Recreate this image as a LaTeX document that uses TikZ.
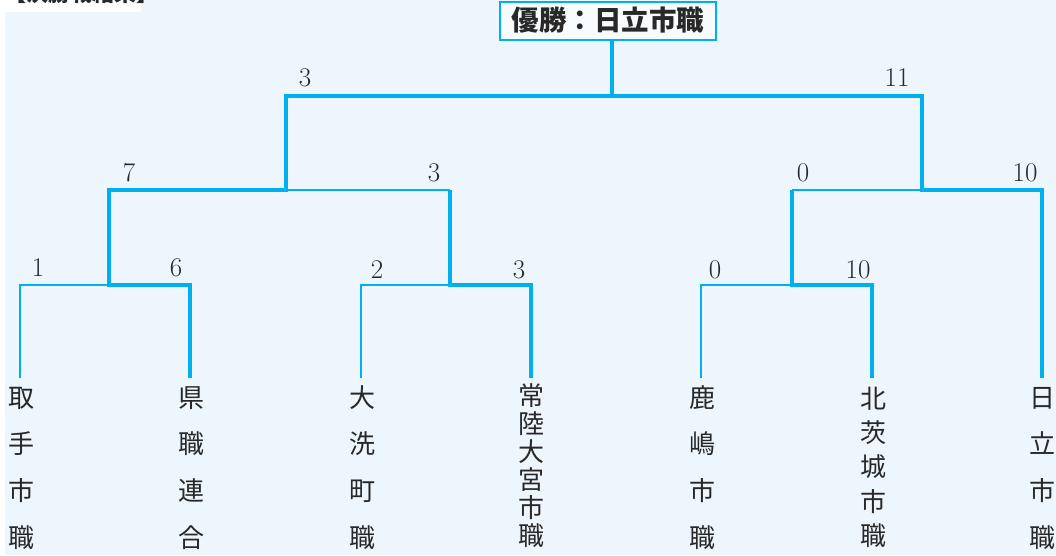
\documentclass[tikz,border=0pt]{standalone}
\usepackage{fontspec}
\newfontfamily\cjk{Noto Sans CJK JP}
\definecolor{bgblue}{RGB}{238,246,253}
\definecolor{brk}{RGB}{0,176,236}
\definecolor{ink}{RGB}{40,40,40}
\tikzset{
  lose/.style={draw=brk, line width=1.4pt},
  win/.style={draw=brk, line width=4.6pt, line join=miter},
  score/.style={font=\fontsize{27}{27}\selectfont, text=ink, inner sep=0pt},
  leaf/.style={align=center, anchor=north, inner sep=0pt, text=ink},
  four/.style={font=\cjk\fontsize{26}{46.6}\selectfont},
  five/.style={font=\cjk\fontsize{26}{34.3}\selectfont},
  six/.style={font=\cjk\fontsize{26}{28}\selectfont},
}
\newcommand\fst{\rule{0pt}{23pt}}
\begin{document}
\begin{tikzpicture}[x=1pt,y=-1pt]
\useasboundingbox (0,0) rectangle (1056,555);
\fill[white] (0,0) rectangle (1056,555);
\fill[bgblue] (5,0) rectangle (1056,555);
\fill[white] (0,0) rectangle (141,12);
\node[anchor=base west, inner sep=0pt, text=ink, font=\cjk\bfseries\fontsize{22}{22}\selectfont] (title) at (4,1.5) {【決勝戦結果】};

% leaves
\node[leaf,four] (l1) at (22,384) {\fst 取\\手\\市\\職};
\node[leaf,four] (l2) at (191,384) {\fst 県\\職\\連\\合};
\node[leaf,four] (l3) at (362,384) {\fst 大\\洗\\町\\職};
\node[leaf,six]  (l4) at (531,382) {\fst 常\\陸\\大\\宮\\市\\職};
\node[leaf,four] (l5) at (702,384) {\fst 鹿\\嶋\\市\\職};
\node[leaf,five] (l6) at (873,385) {\fst 北\\茨\\城\\市\\職};
\node[leaf,four] (l7) at (1042,384) {\fst 日\\立\\市\\職};

% champion box
\node[draw=brk, line width=2pt, fill=white!60!bgblue, minimum width=216pt, minimum height=38pt,
      inner sep=0pt, text=ink, font=\cjk\bfseries\fontsize{27.5}{27.5}\selectfont] (champ) at (608,20.5) {優勝：日立市職};

% leaf tops
\coordinate (t1) at (20,378);
\coordinate (t2) at (190,378);
\coordinate (t3) at (361,378);
\coordinate (t4) at (531,378);
\coordinate (t5) at (701,378);
\coordinate (t6) at (872,378);
\coordinate (t7) at (1042,378);
% junctions
\coordinate (m1) at (109,285);
\coordinate (m2) at (450,285);
\coordinate (m3) at (792,285);
\coordinate (s1) at (286,190);
\coordinate (s2) at (922,190);
\coordinate (f) at (612,96);

% thin (losing) paths
\draw[lose] (t1) |- (m1);
\draw[lose] (t3) |- (m2);
\draw[lose] (t5) |- (m3);
\draw[lose] (m2 |- s1) -- (s1);
\draw[lose] (m3 |- s2) -- (s2);
\draw[lose] (s1 |- f) -- (f);

% thick (winning) paths
\draw[win] (t2) |- (m1) |- (s1) |- (f);
\draw[win] (t4) |- (m2) -- (m2 |- s1);
\draw[win] (t6) |- (m3) -- (m3 |- s2);
\draw[win] (t7) |- (s2) |- (f) -- (champ.south -| f);

% scores
\node[score] (a1) at (38,268) {1};
\node[score] (a2) at (176,268) {6};
\node[score] (a3) at (377,270) {2};
\node[score] (a4) at (519,270) {3};
\node[score] (a5) at (715,270) {0};
\node[score] (a6) at (858,270) {10};
\node[score] (b1) at (129,173) {7};
\node[score] (b2) at (434,173) {3};
\node[score] (b3) at (803,173) {0};
\node[score] (b4) at (1025,173) {10};
\node[score] (c1) at (305,78) {3};
\node[score] (c2) at (897,78) {11};
\end{tikzpicture}
\end{document}
